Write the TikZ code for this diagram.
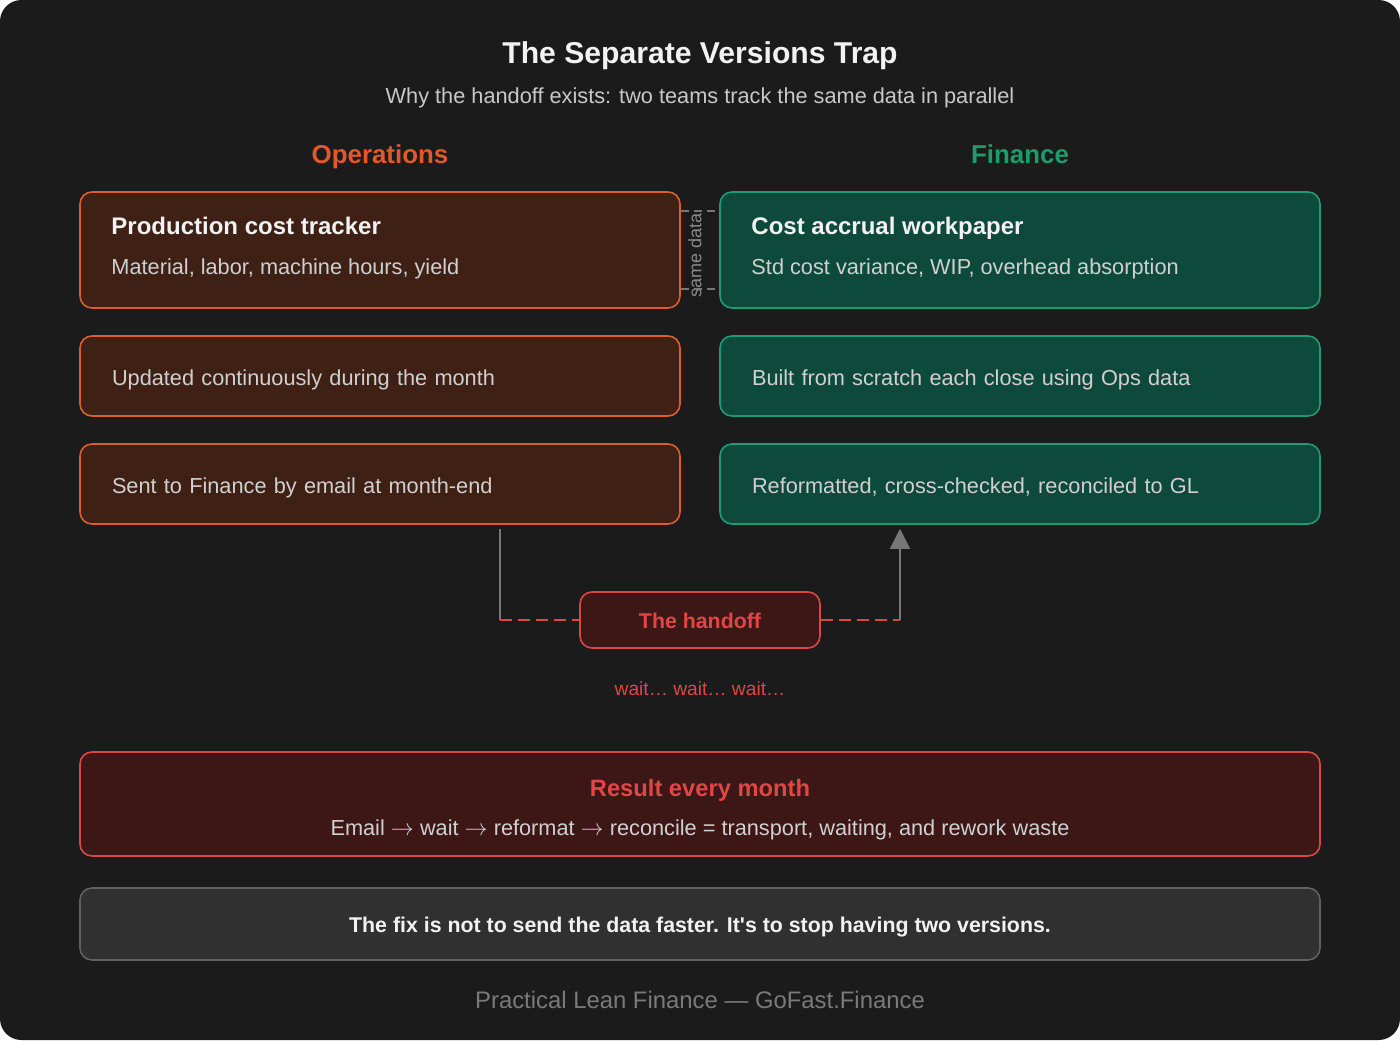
\documentclass[tikz,border=0pt]{standalone}
\usepackage{fontspec}
\setmainfont{Liberation Sans}
\usetikzlibrary{arrows.meta,positioning}
\definecolor{canvas}{HTML}{1B1B1B}
\definecolor{headtxt}{HTML}{F2F2F2}
\definecolor{subtxt}{HTML}{C8C8C8}
\definecolor{bodytxt}{HTML}{D0D0D0}
\definecolor{opsline}{HTML}{D9602E}
\definecolor{opstxt}{HTML}{E0592A}
\definecolor{opsfill}{HTML}{3E2015}
\definecolor{finline}{HTML}{1F9A72}
\definecolor{fintxt}{HTML}{1E9B6E}
\definecolor{finfill}{HTML}{0E4A3B}
\definecolor{redline}{HTML}{D94848}
\definecolor{redtxt}{HTML}{E04646}
\definecolor{redfill}{HTML}{3D1616}
\definecolor{fixfill}{HTML}{303030}
\definecolor{fixline}{HTML}{606060}
\definecolor{wire}{HTML}{777777}
\definecolor{samegray}{HTML}{8A8A8A}
\definecolor{foot}{HTML}{7A7A7A}

\begin{document}
\begin{tikzpicture}[
  x=0.75pt, y=-0.75pt,
  font=\fontsize{16.3}{19}\selectfont,
  box/.style={draw, line width=1.2pt, rounded corners=9pt, minimum width=450pt, inner xsep=24pt, text width=402pt,
    text height=14pt, text depth=0.5pt, align=left, text=bodytxt},
  opsbox/.style={box, draw=opsline, fill=opsfill},
  finbox/.style={box, draw=finline, fill=finfill},
  wide/.style={draw, line width=1.2pt, rounded corners=9pt, minimum width=930pt, align=center},
  hd/.style={font=\fontsize{18}{21}\selectfont\bfseries, text=headtxt, inner sep=0pt},
  bd/.style={text=bodytxt, inner sep=0pt},
  col/.style={font=\fontsize{19.4}{23}\selectfont\bfseries},
  link/.style={wire, line width=1.5pt},
  redwire/.style={redline, line width=2pt, dash pattern=on 9pt off 4.5pt},
  lbl/.style={font=\fontsize{13.5}{16}\selectfont, text=samegray, inner sep=1pt},
]
% --- canvas ----------------------------------------------------------------
\useasboundingbox (0,0) rectangle (1400,1040);
\fill[canvas, rounded corners=16pt] (0,0) rectangle (1400,1040);

% --- title -----------------------------------------------------------------
\node[font=\fontsize{22.6}{27}\selectfont\bfseries, text=headtxt, anchor=base] (title) at (700,63) {The Separate Versions Trap};
\node[text=subtxt, anchor=base] (subtitle) at (700,103) {Why the handoff exists: two teams track the same data in parallel};
\node[col, text=opstxt, anchor=base] (opshd) at (380,163) {Operations};
\node[col, text=fintxt, anchor=base] (finhd) at (1020,163) {Finance};

% --- operations column -----------------------------------------------------
\node[opsbox, minimum height=87pt] (ops1) at (380,250) {};
\node[hd, anchor=base west] (ops1-hd) at ([xshift=24pt,yshift=-32.3pt]ops1.north west) {Production cost tracker};
\node[bd, anchor=base west] (ops1-bd) at ([xshift=24pt,yshift=-62.3pt]ops1.north west) {Material, labor, machine hours, yield};
\node[opsbox, minimum height=60pt, below=19.8pt of ops1] (ops2) {Updated continuously during the month};
\node[opsbox, minimum height=60pt, below=19.8pt of ops2] (ops3) {Sent to Finance by email at month-end};

% --- finance column --------------------------------------------------------
\node[finbox, minimum height=87pt, right=28.8pt of ops1] (fin1) {};
\node[hd, anchor=base west] (fin1-hd) at ([xshift=24pt,yshift=-32.3pt]fin1.north west) {Cost accrual workpaper};
\node[bd, anchor=base west] (fin1-bd) at ([xshift=24pt,yshift=-62.3pt]fin1.north west) {Std cost variance, WIP, overhead absorption};
\node[finbox, minimum height=60pt, right=28.8pt of ops2] (fin2) {Built from scratch each close using Ops data};
\node[finbox, minimum height=60pt, right=28.8pt of ops3] (fin3) {Reformatted, cross-checked, reconciled to GL};

% --- same data ---------------------------------------------------------------
\draw[link, dash pattern=on 6pt off 4pt] ([yshift=-15pt]ops1.north east) -- ([yshift=-15pt]fin1.north west);
\draw[link, dash pattern=on 6pt off 4pt] ([yshift=15pt]ops1.south east) -- ([yshift=15pt]fin1.south west);
\node[lbl, rotate=90] (same) at (695,255) {same data};

% --- the handoff -------------------------------------------------------------
\node[draw=redline, fill=redfill, line width=1.2pt, rounded corners=9pt, minimum width=180pt, minimum height=42pt,
      text height=12.5pt, text depth=0.5pt, font=\fontsize{16}{19}\selectfont\bfseries, text=redtxt] (hand) at (700,620) {The handoff};
\coordinate (hand-l) at (500,620);
\coordinate (hand-r) at (900,620);
\draw[link] ([yshift=-3pt]ops3.south -| hand-l) -- (hand-l);
\draw[redwire] (hand-l) -- (hand.west);
\draw[redwire] (hand.east) -- (hand-r);
\draw[link, -{Triangle[length=15pt, width=15pt]}] (hand-r) -- ([yshift=-3pt]fin3.south -| hand-r);
\node[font=\fontsize{14.4}{17}\selectfont, text=redtxt, anchor=base] (wait) at (700,695) {wait\dots\ wait\dots\ wait\dots};

% --- result and fix ----------------------------------------------------------
\node[wide, draw=redline, fill=redfill, minimum height=78pt] (result) at (700,804) {};
\node[font=\fontsize{17.8}{21}\selectfont\bfseries, text=redtxt, anchor=base] (result-hd) at (700,796) {Result every month};
\node[bd, anchor=base] (result-bd) at (700,835) {Email $\rightarrow$ wait $\rightarrow$ reformat $\rightarrow$ reconcile = transport, waiting, and rework waste};
\node[wide, draw=fixline, fill=fixfill, minimum height=54pt, text height=12.5pt, text depth=0.5pt,
      font=\fontsize{16}{19}\selectfont\bfseries, text=headtxt] (fix) at (700,924)
  {The fix is not to send the data faster. It\textquotesingle s to stop having two versions.};
\node[font=\fontsize{17.9}{21}\selectfont, text=foot, anchor=base] (footer) at (700,1008) {Practical Lean Finance — GoFast.Finance};
\end{tikzpicture}
\end{document}
